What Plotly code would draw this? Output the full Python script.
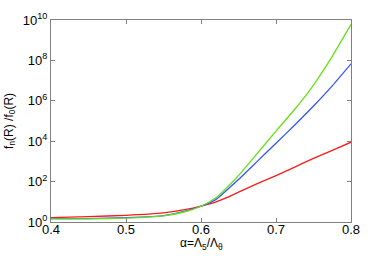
import plotly.graph_objects as go

alpha = [0.40, 0.45, 0.50, 0.55, 0.58, 0.60, 0.62, 0.635, 0.65, 0.675, 0.70, 0.725, 0.75, 0.775, 0.80]
# log10 of f_n(R)/f_0(R)
log_red   = [0.22, 0.27, 0.33, 0.45, 0.62, 0.79, 1.00, 1.22, 1.48, 1.90, 2.30, 2.72, 3.15, 3.55, 3.95]
log_blue  = [0.17, 0.17, 0.22, 0.32, 0.55, 0.78, 1.12, 1.60, 2.10, 3.00, 3.90, 4.80, 5.74, 6.74, 7.83]
log_green = [0.15, 0.15, 0.19, 0.30, 0.52, 0.78, 1.20, 1.72, 2.30, 3.40, 4.50, 5.58, 6.78, 8.20, 9.78]

y_tickvals = [1, 1e2, 1e4, 1e6, 1e8, 1e10]
y_ticktext = ["10<sup>0</sup>", "10<sup>2</sup>", "10<sup>4</sup>", "10<sup>6</sup>", "10<sup>8</sup>", "10<sup>10</sup>"]
x_tickvals = [0.4, 0.5, 0.6, 0.7, 0.8]
x_ticktext = ["0.4", "0.5", "0.6", "0.7", "0.8"]

FONT = "Liberation Sans, Arial"

fig = go.Figure()
for ys, col in [(log_red, "#ff1a1a"), (log_blue, "#3355ff"), (log_green, "#66e01a")]:
    fig.add_trace(go.Scatter(x=alpha, y=[10 ** v for v in ys], mode="lines",
                             line=dict(color=col, width=1.3, shape="spline", smoothing=0.5),
                             showlegend=False, hoverinfo="skip"))

axis_common = dict(showgrid=False, zeroline=False, showline=True, linecolor="#808080",
                   linewidth=1, mirror="ticks", ticks="inside", ticklen=4,
                   tickcolor="#808080", tickfont=dict(family=FONT, size=13, color="black"))

fig.update_layout(
    width=388, height=256,
    margin=dict(l=51, r=37, t=20, b=34),
    paper_bgcolor="white", plot_bgcolor="white",
    xaxis=dict(range=[0.4, 0.8], tickvals=x_tickvals, ticktext=x_ticktext,
               ticklabelstandoff=-5, **axis_common),
    yaxis=dict(type="log", range=[0, 10], tickvals=y_tickvals, ticktext=y_ticktext,
               **axis_common),
    annotations=[
        dict(text="α=Λ<sub>5</sub>/Λ<sub>θ</sub>", xref="paper", yref="paper",
             x=0.5, y=-0.108, xanchor="center", yanchor="middle", showarrow=False,
             font=dict(family=FONT, size=12, color="black")),
        dict(text="f<sub>n</sub>(R) /f<sub>0</sub>(R)", xref="paper", yref="paper",
             x=-0.137, y=0.5, xanchor="center", yanchor="middle", showarrow=False,
             textangle=-90, font=dict(family=FONT, size=12, color="black")),
    ],
)

fig.write_html("out.html", config={"displayModeBar": False},
               post_script="document.body.style.margin='0';")
